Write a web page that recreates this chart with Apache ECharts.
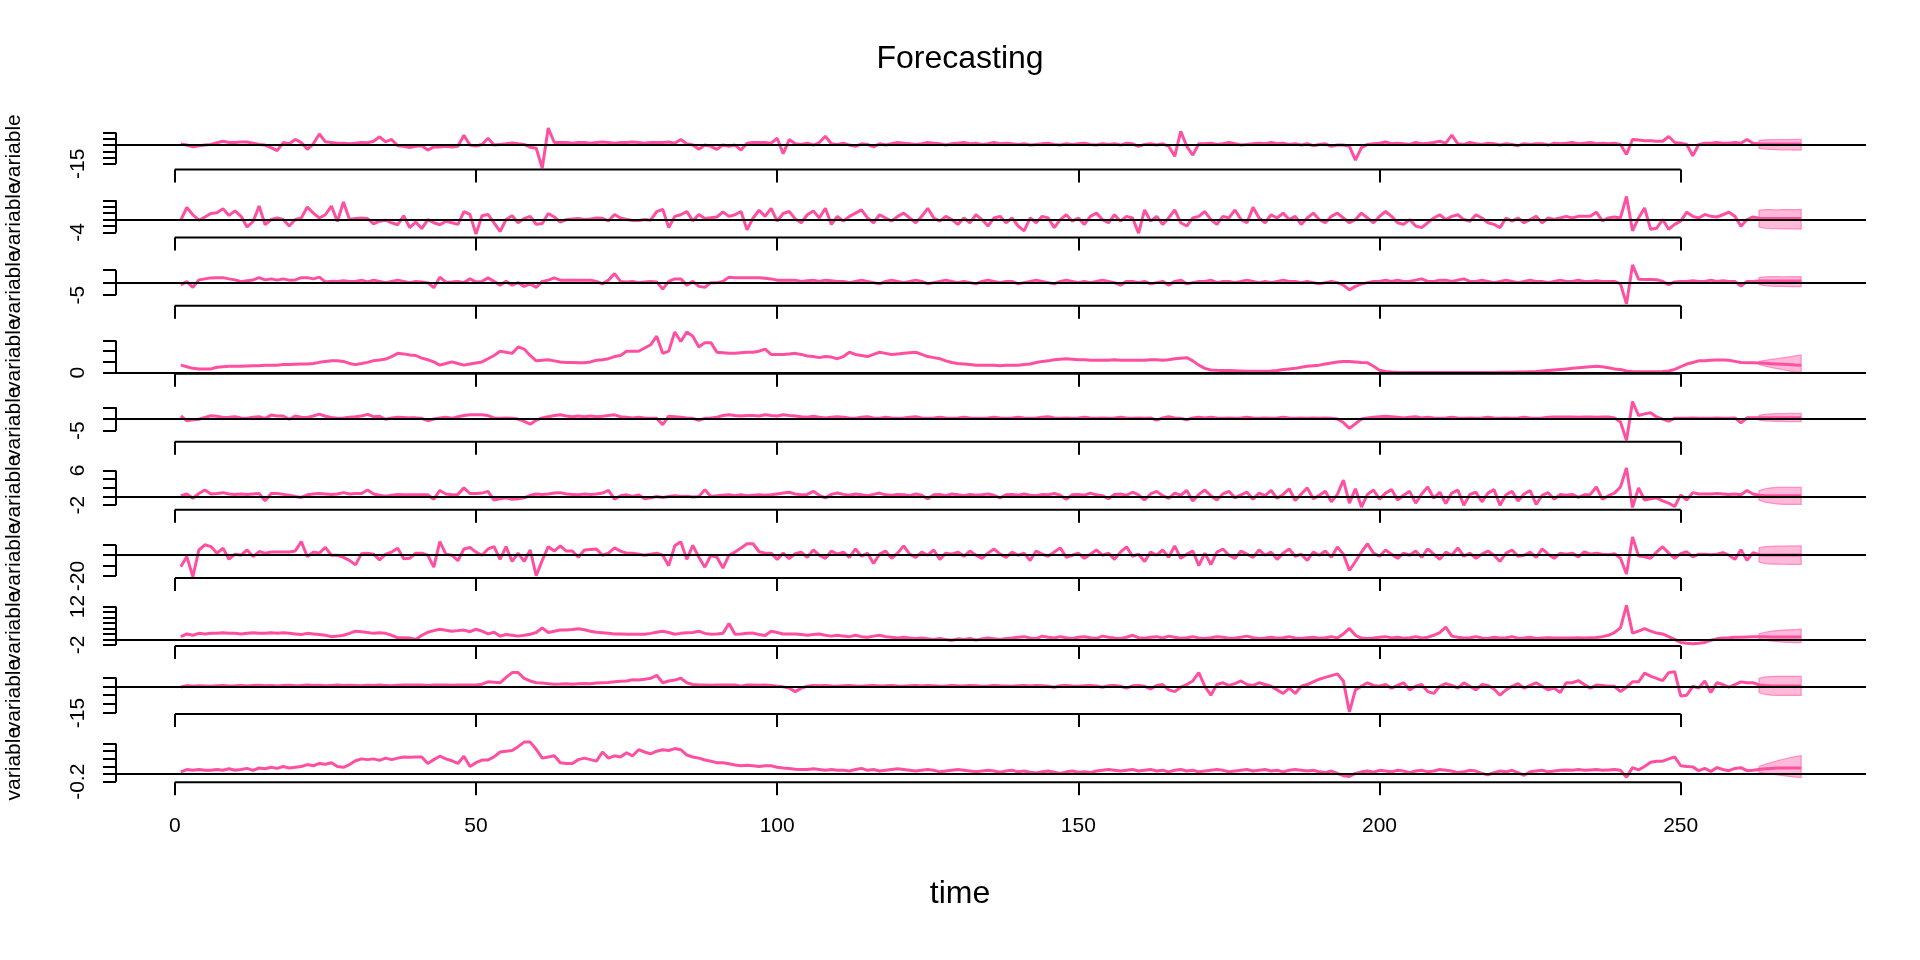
<!DOCTYPE html>
<html><head><meta charset="utf-8">
<script src="https://cdn.jsdelivr.net/npm/echarts@6/dist/echarts.min.js"></script>
<style>html,body{margin:0;padding:0;background:#fff}#c{width:1920px;height:960px}</style>
</head><body><div id="c"></div>
<script>
// observed values t = 1..262
const v1 = [0.8,0,-1.3,-0.5,0,0.5,1.8,3,2,2, 2.5,2.5,1.5,0.5,0,-2,-4.5,2,1,4.5, 2,-3.4,1,8.8,2.6,2,1.5,1.5,1,1.5, 2,1.8,3,6.6,2.6,4.5,-0.5,-1,-2,-1,
 -0.5,-4,-1.5,-1.5,-1,-1.5,-1,7.8,0,-0.7, 0.5,5.4,0,0.5,1,1.7,1,0.5,-1.7,-2.5, -18.3,13.6,2,2,2,1.5,2,2,1.5,2, 2.5,2,1.5,2,2,2.5,2,1.5,2,2,
 2,2.5,1.5,4.4,1,0,-3.4,0,-1,-3.4, 0,-1,0,-4,1.5,2,2,2,1.5,5.4, -6.8,4.4,1,0.5,1.5,0,2,7,1,0.5, 1.5,0,-1,1,0.5,-1.5,1,0,1,2,
 1.5,1,0.5,1,2,1.5,1,0,1,1.5, 2,1,1.5,0.5,1,2,1,1.5,1,0.5, 1,0,0.5,1,1.5,0.5,0,1,0.5,1, 1.5,0.5,0,1,0.5,1,0,1.5,1,-1,
 0.5,1,0,1,-1,-9,11,-1,-8,1, 1,1.5,0.5,1,2,1,0,0.5,1,1.5, 1,2,1,1.5,0.5,1,0,1,-0.5,0.5, 1,-1,0,0,-1,-12,-2,0.5,1,1.5,
 2.5,1,1.5,1,0.5,2,1,1.5,2,3, 1.5,8,1,0.5,2,1,0.5,1.5,1,0, 1,0.5,-0.5,1,0.5,1,1,0,1.5,1, 1.5,2,1,1.5,2,1,1.5,1,1.5,0.5,
 -7.5,4.4,4,3.5,3.5,3,3,6.8,2,1.5, 0.5,-8.5,0.5,1.5,1.5,2,1.5,1.5,2,1.5,4.4,1.5];
const v2 = [-0.2,3.75,1.5,-0.2,0.8,1.9,2.1,3.4,1.3,2.7, 1,-2.3,-0.6,4.2,-1.6,0,0.5,0,-2,0, 0.5,3.9,2,0.5,1.5,4.2,-0.6,5.5,0,0.3, 0.5,0.3,-1.3,-0.5,-0.2,-1,-1.6,1.2,-2.5,-0.8,
 -2.8,0,-1,-1.6,-0.5,-1,-1.5,2.5,1.6,-4.5, 1.2,1.6,-1,-3.7,0,1.2,-1,0.3,1,-1.5, -1.2,1.9,0.8,-0.8,0,0.2,0.3,0,0.2,0.5, 0.4,-0.4,1.6,0.5,0,-0.3,-0.3,0,-0.2,2.5,
 3.2,-2.5,1,1.5,2.5,-0.4,1.6,0.3,0.6,0.8, 2.4,1,1.5,2.5,-3.2,0.5,2.9,1,3.5,-0.5, 1.9,2.5,0.2,-1,1.5,2.7,0.5,3.5,-1.5,1, -0.5,1,2,3,0.5,-1,1.5,0.5,-0.5,1,
 2,0.5,-1,1,3.5,0.5,-0.5,1,0,-1.5, 0.5,-1,1.5,0,-2,0.5,1,-1,0.5,-2, -3.5,0.5,-1,1,0.5,-2.5,0,1.5,-0.5,0.5, -1.5,1,2,0,-1,1.5,-0.5,1,0.5,-4.2,
 3,-0.5,1,-1.5,0.5,3,-1,-2,0.5,1, 2.5,0,-1.5,1,0.5,3,0,-1,3.8,0.5, -1,1.5,0.5,2,0,1,-1.5,0.5,2,0, -1,1,2,0.5,-1,0,2,0.5,-1,1,
 2.5,1,-1,-1.5,0,-2,-2.5,-1,0.5,1.5, 0,1,1.5,0,-0.5,1.5,0.5,-1,-1.5,-2.5, 0.5,-0.5,0.5,-1,0,1,-1,0.5,0,0.5, 1,0.5,1,1,1,2.3,-0.4,0.5,0.8,0.5,
 7.2,-3.5,0.5,3.6,-3,-2.7,0,-3,-1.5,-0.5, 2.3,1,0.5,1.6,1,0.8,1.5,2.3,1,-2.1,0,0.8];
const v3 = [-0.9,0.4,-1.9,1.1,1.5,1.9,2,2,1.5,1.1, 0.4,0.8,1.1,2,1.1,1.5,1,1.5,1,1.1, 2,2,1.5,2.2,0.3,0.6,0.5,0.8,0.5,0.5, 1,0.3,1,0.5,0,0.5,1,0.5,0,0.5,
 0.3,0,-2,2.2,0.2,0.3,0.5,0,1.5,0.3, 0.5,1.9,0.5,-1,0.5,-1,0,-1.5,-0.5,-1.9, 0.5,1,1.9,1,1,1,1,1,1,0.5, -0.5,1,3.6,0.5,0.3,0.5,0,0.3,0.5,0.3,
 -2.6,0.5,1.5,1.5,-1,0.5,-1.5,-1.9,0,0, 0.5,2.2,2,2,2,2,2,1.8,1.5,1, 1,1,1,0.5,0.8,1,0.5,1,0.8,0.5, 0.5,0,0.5,1,0.5,0,-0.5,0.5,1,0.5,
 0,0.5,1,0.5,-0.5,0,0.5,1,0.5,0, 0.5,0,-0.5,0.5,1,0.5,0,0.5,0.5,-0.5, 0,0.5,1,0.5,0,-0.5,0.5,1,0.5,0, 0.5,0,0.5,1,0.5,0,-1,0.5,0.5,0,
 0.5,-0.5,0,0.5,-1,0.5,1,-0.5,0,0.5, 0.5,1,0,0.5,0.5,0,0.5,1,0.5,0, 0.5,0,0.5,1,0.5,0.5,0,0.5,0,-0.5, 0,0.5,0,-1,-2.9,-1.5,-0.5,0,0.5,0.5,
 1,0.5,1,0.5,0.5,1,1.5,0.5,0.5,1, 1,0.5,1,1.5,0.5,0.5,1,0.5,0,0.5, 1,0.5,0,0.5,1,0.5,0.5,0,0.5,1, 0.5,0.5,1,0.5,0.5,0.8,0.5,0.5,0.5,-0.5,
 -8.5,7.1,1.4,1.3,1.3,1.2,0.5,-0.8,0.3,0.5, 0.5,0.8,0.5,0.5,1,0.5,0.8,0.5,0.5,-1.4,0.5,0.5];
const v4 = [0.7,0.55,0.4,0.35,0.33,0.35,0.5,0.55,0.6,0.6, 0.6,0.62,0.64,0.65,0.68,0.7,0.7,0.75,0.75,0.78, 0.8,0.8,0.85,0.96,1.05,1.12,1.12,1.05,0.86,0.75, 0.85,0.96,1.12,1.18,1.27,1.5,1.8,1.75,1.65,1.6,
 1.35,1.2,1.0,0.7,0.85,1.0,0.85,0.7,0.8,0.9, 1.0,1.3,1.6,2.0,1.9,1.8,2.4,2.2,1.6,1.1, 1.15,1.2,1.1,1.0,0.95,0.95,0.93,0.93,1.0,1.15, 1.2,1.3,1.5,1.6,2.0,2.0,2.0,2.3,2.6,3.4,
 1.8,2.0,3.8,2.9,3.8,3.4,2.4,2.8,2.8,1.9, 1.85,1.8,1.8,1.85,1.9,1.9,2.0,2.2,1.7,1.7, 1.7,1.75,1.8,1.7,1.55,1.5,1.4,1.5,1.45,1.3, 1.5,1.9,1.7,1.6,1.5,1.7,1.9,1.8,1.7,1.75,
 1.8,1.85,1.9,1.7,1.5,1.4,1.3,1.1,0.95,0.85, 0.8,0.75,0.7,0.7,0.7,0.7,0.65,0.7,0.7,0.7, 0.75,0.8,0.95,1.05,1.1,1.2,1.25,1.3,1.25,1.2, 1.2,1.15,1.15,1.15,1.15,1.2,1.15,1.15,1.15,1.15,
 1.15,1.2,1.2,1.15,1.2,1.3,1.35,1.4,1.1,0.7, 0.4,0.25,0.22,0.2,0.2,0.18,0.15,0.12,0.12,0.12, 0.12,0.15,0.2,0.3,0.35,0.4,0.5,0.6,0.65,0.7, 0.8,0.9,1.0,1.05,1.05,1.0,0.95,0.93,0.6,0.23,
 0.1,0.05,0.03,0.02,0.02,0.02,0.02,0.02,0.02,0.02, 0.02,0.02,0.02,0.02,0.02,0.02,0.02,0.02,0.02,0.03, 0.03,0.04,0.05,0.06,0.08,0.1,0.15,0.2,0.25,0.3, 0.35,0.4,0.45,0.5,0.55,0.6,0.55,0.45,0.35,0.3,
 0.15,0.1,0.08,0.08,0.08,0.08,0.1,0.15,0.3,0.55, 0.8,0.95,1.1,1.12,1.15,1.17,1.17,1.15,1.05,0.95,0.93,0.92];
const v5 = [1.3,-0.7,-0.3,-0.1,0.7,1.4,1.2,0.7,0.8,1.0, 0.5,0.3,0.8,1.0,0.3,1.7,1.3,1.3,-0.1,1.3, 0.8,0.7,1.3,2.1,1.2,0.7,0.3,0.5,0.8,1.0, 1.3,2.0,1.0,1.2,-0.1,0.5,0.8,0.7,0.5,0.5,
 0.3,-0.7,0,0.5,0.8,0.3,1.0,1.5,1.8,1.8, 1.8,1.5,0.5,0.3,0.5,0.3,0,-1,-2.2,-0.5, 0.5,1.0,1.5,1.8,1.3,1.0,1.3,1.0,1.3,1.0, 1.2,1.5,1.8,1.0,0.8,0.5,0.8,0.5,0.3,0.3,
 -2.4,1.2,1.0,0.8,0.5,0.3,-0.5,0.3,0.5,0.8, 1.5,1.8,1.5,1.3,1.5,1.5,1.3,1.8,1.5,1.3, 1.8,1.5,1.3,1.0,0.8,1.2,0.8,0.5,0.8,1.0, 0.8,0.5,0.3,0.8,1.0,0.5,0.3,0.8,0.5,0.3,
 0.5,0.8,1.0,0.5,0.3,0.5,0.8,0.5,0.3,0.5, 0.8,0.5,0.3,0.3,0.5,0.8,0.5,0.3,0.5,0.8, 0.5,0.3,0.5,0.8,1.0,0.5,0.3,0.5,0.3,0.5, 0.8,0.5,0.3,0.5,0.3,0.5,0.8,0.5,0.3,0.5,
 0.3,0.5,-0.5,0.5,1.0,0.5,0.3,-0.3,0.5,0.8, 0.5,0.8,0.5,0.3,0.5,0.3,0.5,0.8,0.5,0.3, 0.5,0.3,0.5,0.8,0.5,0.3,0.5,0.3,0.5,0.3, 0.5,0.3,0,-1.5,-4,-2,0,0.5,0.8,1.0,
 1.2,1.0,0.8,0.5,0.8,1.0,0.5,0.8,0.5,0.3, 0.5,0.8,0.5,0.3,0.5,0.3,0.5,0.8,0.5,0.3, 0.5,0.3,0.5,0.8,0.5,0.3,0.5,0.8,0.9,0.9, 0.9,0.9,0.8,0.9,0.9,0.8,0.9,0.9,0.5,-1.3,
 -9.1,7.5,1.5,2.2,2.7,0.9,0,-0.9,0.3,0.3, 0.3,0.5,0.3,0.3,0.3,0.5,0.3,0.3,0.5,-1.6,0.5,0.5];
const v6 = [0.2,0.6,-0.4,0.7,1.5,0.6,0.7,0.9,0.6,0.5, 0.6,0.5,0.6,0.7,-1,0.7,0.7,0.5,0.3,0, -0.2,0.4,0.6,0.7,0.6,0.5,0.6,0.9,0.6,0.7, 0.7,1.5,0.6,0.3,0.1,0.3,0.5,0.4,0.4,0.4,
 0.4,0.4,-0.6,1.4,0.6,0.4,0.5,2.0,0.7,0.7, 0.8,1.2,-0.8,-0.5,-0.3,-0.6,-0.5,-0.3,0.3,0.6, 0.5,0.6,0.8,0.9,0.6,0.5,0.4,0.6,0.5,0.6, 0.8,1.4,-0.6,0.2,0.4,0,0.4,-0.5,-0.3,0,
 -0.2,0,0.2,0,0.1,-0.1,0,1.6,0,0.2, 0.3,0.4,0.2,0.4,0.2,0.3,0.4,0.3,0.4,0.6, 0.8,1.0,0.6,0.4,0.5,1.2,0.3,-0.3,0.5,0.8, 0.5,0.3,0.6,0.4,0.2,0.5,0.8,0.4,0.3,0.5,
 0.4,0.2,0.6,0.3,-0.5,0.4,0.5,0.2,0.6,0.4, 0.2,0.5,0.3,0.4,0.6,0.3,-0.3,0.4,0.5,0.3, 0.6,0.3,0.2,0.5,0.4,0.7,0.3,-0.6,0.4,0.5, 0.3,0.8,0.4,0.2,-0.5,0.5,0.6,0.3,1.0,0.4,
 -0.8,0.6,1.2,0.2,-0.4,0.8,0.3,1.4,-1.0,0.5, 1.5,0.2,-0.8,0.6,1.2,-0.3,0.4,1.0,-0.6,0.8, 0.2,1.4,-0.4,0.5,1.8,-0.9,0.6,2.0,-0.5,0.3, 1.2,-1.2,0.5,3.8,-1.5,1.8,-2.4,0.5,1.5,-0.6,
 0.8,1.6,-0.8,0.3,1.2,-1.5,0.6,2.2,-0.4,1.0, -1.6,0.8,1.5,-2.0,0.5,1.0,-1.2,0.8,1.6,-2.0, 0.4,1.2,-1.0,0.6,1.4,-1.8,0.3,0.9,-0.6,0.5, 0.3,0.5,-0.2,0.4,0.5,2.2,-0.6,0.2,0.8,2.2,
 6.6,-2.5,2.0,-0.8,-0.5,-0.3,-1.0,-1.5,-2.3,0.4, -0.8,0.9,0.6,0.6,0.6,0.7,0.6,0.5,0.6,0.4,1.4,0.6];
const v7 = [-11,-1.3,-20.5,5,10,8.3,2,6.7,-3.8,1, 0,5,-1.3,3.5,2,3,3,3,3,4, 13,-1.3,3,2,7.5,0,0,-2,-5,-9.3, 1.5,2,1,-4.5,1,3,6.7,-3.3,-3,2,
 2,0,-11.5,13,1,0,-5.3,6,7.4,3, 0,6,8.2,-4,8.2,-6,2,-6,5,-19.7, -5,8.2,4,9,4,4,-2,5,5.5,6, 0,2,7,4,2,2,1,0,1,2,
 0,-10,9,13,-4,9.4,-2,-11.5,0,-2, -12.3,0,3,7,11,11,3.3,2,2,-4, 2,-3.3,1.5,3,-2,5,0,-3,4,1, 3,-2,6,-1,2,-8,1,4,-3,2,
 9,1,-2,3,0,5,-4,2,1,3, -1,4,0,-3,2,6,1,-2,3,0, 2,-5,4,1,-1,3,7,-2,0,2, -3,1,5,0,2,-4,3,8,-1,1,
 -6,3,0,5,-2,9,-3,1,4,-10, 2,-9,3,6,0,-3,4,1,-2,5, 0,3,-4,2,6,-1,1,-5,3,0, 4,-2,8,1,-14.7,-6,3,11,2,-1,
 5,1,-3,2,0,4,-2,6,1,-4, 3,0,7,-1,2,-3,1,4,0,-6, 2,5,-1,0,3,-2,6,1,-3,2, 1,2,-1.6,3.3,1,2,1,0.5,1.5,-2.9,
 -18,17.6,-0.8,-1.5,-2.9,3,8.2,2,-2.9,1.5, 3.3,-1.6,1,1,0.5,1,2.4,0,-4,5.3,-4.9,2.4];
const v8 = [1,2,1.5,2.2,2,2.2,2.2,2.4,2.2,2.2, 2,2.2,2.4,2.2,2.2,2.4,2.2,2.4,2.2,2, 1.8,2.2,2,1.8,1.5,1,1.2,1.5,2.2,3, 2.8,2.5,2.2,2.4,2.2,1.5,0.6,0.6,0.5,0,
 1.5,2.6,3.2,3.7,3.3,3,3.2,3.4,2.8,3.7, 3,2,2.6,1.2,1.8,1.5,1.2,1.5,1.9,2.5, 4.2,2.5,3,3.4,3.4,3.6,3.9,3.5,3,2.6, 2.4,2.2,2,2,1.9,1.9,1.9,1.9,2.2,2.6,
 3,2.5,1.9,2.2,2.4,2.5,3,2.2,1.9,2.0, 2.2,5.8,1.9,2,2.2,2.3,1.8,1.4,3,2.5, 2,2,2,1.8,1.5,1.8,2,1.5,1.2,1.5, 1.2,1,1.5,1,0.8,1.2,1.5,1,0.8,0.5,
 0.8,0.5,0.3,0.5,0.2,0,0.3,0,-0.3,0.2, 0,0.3,-0.2,0.2,0.5,0.2,0,0.3,0.5,0.8, 1,0.5,0.3,1.2,0.8,0.5,1,0.6,0.3,0.8, 1,0.6,0.4,1.2,0.8,0.5,0.3,0.8,1.5,0.6,
 0.4,0.8,1,0.5,1.2,0.8,0.4,0.6,1,0.5, 0.3,0.6,1,0.8,0.4,0.5,0.8,1.2,0.6,0.3, 0.5,0.8,0.4,0.6,1,0.5,0.3,0.6,0.8,0.4, 0.6,1,0.5,2,4,1.5,0.5,0.3,0.5,0.8,
 1,0.5,0.8,0.4,0.6,1,0.5,0.8,1.5,2.5, 4.5,1.2,0.8,0.5,0.6,1,0.5,0.3,0.8,0.5, 0.6,1,0.4,0.5,0.8,0.3,0.5,0.6,0.5,0.5, 0.5,0.5,0.6,0.5,0.6,0.7,1,1.5,2.5,4.2,
 12.4,2.3,3,3.9,3,2.3,2,1,0,-1.1, -1.4,-1.6,-1.4,-1.1,-0.3,0.2,0.5,0.6,0.8,0.8,0.9,1];
const v9 = [-0.4,0.4,0,0.3,0.2,0,0.3,0.5,0.2,0.3, 0.5,0.2,0.4,0.6,0.3,0.5,0.2,0.4,0.6,0.3, 0.5,0.8,0.4,0.6,0.3,0.5,0.7,0.4,0.6,0.5, 0.3,0.6,0.4,0.7,0.5,0.3,0.6,0.7,0.7,0.7,
 0.7,0.5,0.7,0.8,0.7,0.6,0.7,0.8,0.7,0.7, 1.2,2.5,2.3,2,5,7.7,7.7,4.5,3,2, 1.8,1.5,1.2,1.3,1.5,1.2,1.4,1.6,1.5,1.8, 2,2.2,2.5,2.8,3,3.7,3.5,4,4.5,6.2,
 2,3,3.5,4.5,2,1,0.7,0.7,0.6,0.7, 0.7,0.7,0.7,0,0.7,0.7,0.6,0.7,0.5,0, -0.3,-1,-3,-1,0,0.5,0.3,0.5,0.2,0, 0.3,0.5,0.2,0,0.3,0.5,0.2,0.3,0.5,0.2,
 0,0.3,0.5,0.2,0.4,0.3,0,0.2,0.5,0.3, 0.2,0.4,0.3,0,0.2,0.5,0.3,0.2,0,0.3, 0.5,0.2,0.4,0.3,0,-0.5,0.3,0.5,0.2,0, 0.3,0.5,0.2,-0.5,0.3,0.5,0,-1,0.3,0.5,
 0,-1.5,0.5,1,-2,-3,-0.5,1,3,7.7, 0,-5,1,2,0.5,1.5,3,1,0.5,2, 1,0,-2,-4,-1,-4,0,1,2.5,4, 5,6,7,3,-14.4,-2,0,2,0.5,0,
 1,-1,0.5,2,-2,0,1,-3,-4,0, 1.5,0.5,-1,2,0,-2,1,0.5,-1.5,-5, -2,0,1.5,-1,0.5,2,0,-2,-1,-3.5, 2,2,3.2,1,-1,0.7,0.5,0,0,-3,
 -0.5,2.5,2.5,7.4,5.7,4.5,3.2,7.7,8.2,-5.4, -5,0,-1,3,-3.5,2,1,-0.5,1,2.5,2,2];
const v10 = [0.06,0.12,0.1,0.12,0.1,0.1,0.12,0.1,0.14,0.1, 0.12,0.15,0.1,0.16,0.14,0.18,0.15,0.2,0.16,0.18, 0.2,0.25,0.22,0.28,0.26,0.3,0.2,0.18,0.25,0.35, 0.4,0.38,0.4,0.36,0.42,0.38,0.42,0.45,0.44,0.45,
 0.45,0.28,0.38,0.47,0.4,0.35,0.28,0.47,0.2,0.3, 0.37,0.37,0.45,0.58,0.6,0.62,0.72,0.84,0.84,0.65, 0.42,0.45,0.48,0.3,0.28,0.28,0.38,0.42,0.38,0.34, 0.58,0.42,0.48,0.45,0.56,0.48,0.64,0.58,0.53,0.6,
 0.64,0.62,0.67,0.64,0.5,0.45,0.42,0.37,0.34,0.3, 0.3,0.27,0.24,0.22,0.23,0.22,0.2,0.22,0.22,0.18, 0.16,0.15,0.13,0.12,0.12,0.14,0.12,0.1,0.12,0.1, 0.1,0.08,0.12,0.15,0.1,0.12,0.08,0.1,0.12,0.14,
 0.12,0.1,0.08,0.1,0.12,0.1,0.06,0.08,0.1,0.12, 0.1,0.08,0.06,0.08,0.1,0.08,0.05,0.08,0.1,0.06, 0.08,0.05,0.03,0.06,0.08,0.05,0.02,0.06,0.08,0.05, 0.06,0.04,0.08,0.1,0.12,0.1,0.08,0.1,0.12,0.08,
 0.1,0.12,0.08,0.1,0.06,0.1,0.12,0.08,0.1,0.06, 0.08,0.1,0.12,0.1,0.06,0.08,0.1,0.12,0.08,0.1, 0.12,0.08,0.1,0.06,0.1,0.12,0.1,0.08,0.1,0.06, 0.04,0.08,0.02,-0.04,-0.06,0.02,0.06,0.08,0.05,0.1,
 0.08,0.06,0.1,0.08,0.04,0.08,0.1,0.06,0.08,0.12, 0.1,0.08,0.04,0.06,0.1,0.08,0.02,-0.02,0.04,0.08, 0.06,0.1,0.04,-0.03,0.06,0.08,0.1,0.06,0.08,0.1, 0.11,0.1,0.12,0.1,0.11,0.12,0.1,0.11,0.12,0.1,
 -0.08,0.17,0.11,0.2,0.31,0.34,0.34,0.4,0.45,0.22, 0.2,0.19,0.09,0.15,0.07,0.17,0.12,0.09,0.15,0.17,0.09,0.1];

// forecasts t = 263..270 : median, lower, upper
const fMid = [
 [1,0.8,0.9,0.8,0.8,0.8,0.8,0.8],
 [0.4,0.3,0.3,0.3,0.3,0.3,0.3,0.3],
 [0.7,0.7,0.7,0.7,0.7,0.7,0.7,0.7],
 [0.9,0.87,0.84,0.81,0.78,0.75,0.72,0.7],
 [0.56,0.56,0.56,0.56,0.56,0.56,0.56,0.56],
 [0.3,0.2,0.2,0.2,0.2,0.2,0.2,0.2],
 [0.5,0.3,0.2,0.3,0.2,0.2,0.2,0.2],
 [1,1,0.9,0.9,0.9,0.9,0.9,0.9],
 [0.8,0.5,0.3,0.2,0.2,0.2,0.2,0.2],
 [0.12,0.14,0.15,0.16,0.16,0.16,0.16,0.16]];
const fLow = [
 [-2.5,-3.2,-3.5,-3.6,-3.8,-3.8,-4,-4],
 [-2.3,-2.7,-2.8,-2.8,-2.9,-2.8,-2.9,-3.0],
 [-0.8,-1.2,-1.4,-1.5,-1.5,-1.6,-1.6,-1.6],
 [0.75,0.6,0.48,0.37,0.27,0.17,0.08,0.02],
 [-0.5,-0.8,-0.9,-1,-1,-1.1,-1.1,-1.1],
 [-0.8,-1.3,-1.5,-1.7,-1.8,-1.8,-1.8,-1.8],
 [-6.5,-8,-8.5,-8.6,-8.7,-8.8,-8.8,-8.8],
 [0.2,-0.3,-0.6,-0.8,-1,-1.1,-1.2,-1.2],
 [-3.5,-4.5,-5,-5.1,-5.1,-5.1,-5.1,-5.1],
 [0.05,0.02,0,-0.02,-0.04,-0.06,-0.08,-0.09]];
const fHigh = [
 [3.8,4.2,4.3,4.3,4.4,4.4,4.5,4.5],
 [2.9,3.1,3.1,3.0,3.1,3.1,3.1,3.2],
 [2,2.3,2.4,2.4,2.3,2.4,2.4,2.4],
 [1.05,1.15,1.23,1.3,1.38,1.47,1.56,1.65],
 [1.6,2,2.2,2.3,2.3,2.4,2.4,2.4],
 [1.4,1.8,2.0,2.1,2.1,2.1,2.1,2.1],
 [7,8.2,8.6,8.8,8.8,8.9,8.9,8.9],
 [2,2.6,3,3.2,3.4,3.5,3.6,3.7],
 [4.5,5.3,5.5,5.6,5.6,5.6,5.6,5.6],
 [0.2,0.26,0.3,0.35,0.39,0.43,0.46,0.49]];

// axes
const xTicks = [0,50,100,150,200,250];
const yTicks = [
 [-15,-10,-5,0,5,10],[-4,-2,0,2,4,6],[-5,0,5],[0,1,2,3],[-5,0,5],
 [-2,0,2,4,6],[-20,-10,0,10],[-2,0,2,4,6,8,10,12],[-15,-10,-5,0,5],[-0.2,0,0.2,0.4,0.6,0.8]];
const yLabels = [[-15],[-4],[-5],[0],[-5],[-2,6],[-20],[-2,12],[-15],[-0.2]];
const yRange = [[-19.5,16.4],[-5.6,8.4],[-9.2,8.8],[-0.1,4.1],[-9.7,9.5],[-3.06,7.3],[-21.8,21.4],[-2.4,14.0],[-15.6,9.7],[-0.21,0.97]];
const xRange = [-9.76, 280.76];
const obsEnd = 262;
const series = [v1,v2,v3,v4,v5,v6,v7,v8,v9,v10];

const FONT = "'Liberation Sans', Arial, Helvetica, sans-serif";
const PINK = '#FF4FA0';
const grids = [], xAxes = [], yAxes = [], sers = [], graphics = [];
const bottom0 = 169.5, step = 68.07, H = 45;

series.forEach((vals, i) => {
  const b = bottom0 + step * i;
  grids.push({left: 116, right: 54, top: b - H, height: H, outerBoundsMode: 'none'});
  xAxes.push({gridIndex: i, type: 'value', min: xRange[0], max: xRange[1], position: 'bottom',
    axisLine: {show: false, onZero: false}, splitLine: {show: false},
    axisTick: {show: true, customValues: xTicks, length: 13, inside: false, lineStyle: {color: '#000', width: 2}},
    axisLabel: {show: i === 9, customValues: xTicks, fontSize: 21, margin: 34, color: '#000', fontFamily: FONT}});
  yAxes.push({gridIndex: i, type: 'value', min: yRange[i][0], max: yRange[i][1], position: 'left',
    axisLine: {show: false, onZero: false}, splitLine: {show: false},
    axisTick: {show: true, customValues: yTicks[i], length: 13, inside: false, lineStyle: {color: '#000', width: 2}},
    axisLabel: {show: true, customValues: yLabels[i], rotate: 90, fontSize: 21, margin: 27, color: '#000', fontFamily: FONT}});

  const line = vals.map((v, k) => [k + 1, v]).concat(fMid[i].map((v, k) => [obsEnd + 1 + k, v]));
  const band = fLow[i].map((v, k) => [obsEnd + 1 + k, v, fHigh[i][k]]);
  sers.push({type: 'custom', xAxisIndex: i, yAxisIndex: i, data: band, z: 1, silent: true,
    encode: {x: 0, y: [1, 2]},
    renderItem: (params, api) => {
      if (params.dataIndex !== 0) return null;
      const pts = [];
      band.forEach(d => pts.push(api.coord([d[0], d[2]])));
      band.slice().reverse().forEach(d => pts.push(api.coord([d[0], d[1]])));
      return {type: 'polygon', shape: {points: pts},
        style: {fill: 'rgba(255,79,160,0.4)', stroke: 'rgba(255,79,160,0.55)', lineWidth: 1.2}};
    }});
  sers.push({type: 'line', xAxisIndex: i, yAxisIndex: i, data: line, symbol: 'none',
    lineStyle: {color: PINK, width: 3}, z: 2, silent: true});
  const t = yTicks[i];
  sers.push({type: 'line', xAxisIndex: i, yAxisIndex: i, clip: false, symbol: 'none',
    data: [[xRange[0], t[0]], [xRange[0], t[t.length - 1]]],
    lineStyle: {color: '#000', width: 2}, z: 3, silent: true,
    markLine: {silent: true, symbol: 'none', label: {show: false}, animation: false,
      lineStyle: {color: '#000', width: 2, type: 'solid'}, data: [{yAxis: 0}]}});
  sers.push({type: 'line', xAxisIndex: i, yAxisIndex: i, clip: false, symbol: 'none',
    data: [[xTicks[0], yRange[i][0]], [xTicks[xTicks.length - 1], yRange[i][0]]],
    lineStyle: {color: '#000', width: 2}, z: 3, silent: true});

  graphics.push({type: 'text', x: 14, y: b - H / 2 + 4, rotation: Math.PI / 2,
    style: {text: 'variable', fontSize: 21, fontFamily: FONT, fill: '#000',
      align: 'center', verticalAlign: 'middle', textAlign: 'center', textVerticalAlign: 'middle'}});
});

graphics.push({type: 'text', x: 960, y: 59, style: {text: 'Forecasting', fontSize: 32, fontFamily: FONT, fill: '#000',
  align: 'center', verticalAlign: 'middle', textAlign: 'center', textVerticalAlign: 'middle'}});
graphics.push({type: 'text', x: 960, y: 894, style: {text: 'time', fontSize: 32, fontFamily: FONT, fill: '#000',
  align: 'center', verticalAlign: 'middle', textAlign: 'center', textVerticalAlign: 'middle'}});

const chart = echarts.init(document.getElementById('c'), null, {renderer: 'canvas'});
chart.setOption({
  animation: false,
  backgroundColor: '#ffffff',
  grid: grids, xAxis: xAxes, yAxis: yAxes, series: sers, graphic: graphics
});
</script></body></html>
